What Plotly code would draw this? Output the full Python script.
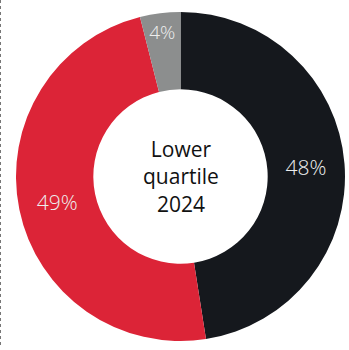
import plotly.graph_objects as go

labels = ["Group A", "Group B", "Group C"]
values = [48, 49, 4]
colors = ["#15181d", "#dc2437", "#8c8e8e"]
center_text = "Lower<br>quartile<br>2024"

fig = go.Figure(go.Pie(
    labels=labels,
    values=values,
    hole=0.53,
    sort=False,
    direction="clockwise",
    rotation=0,
    marker=dict(colors=colors, line=dict(width=0)),
    texttemplate="%{value}%",
    textposition="inside",
    insidetextorientation="horizontal",
    textfont=dict(family="Open Sans", size=21, color="#eeeeee", weight=300),
    hoverinfo="label+value",
    showlegend=False,
))

fig.add_annotation(
    text=center_text, x=0.5, y=0.5, xref="paper", yref="paper",
    showarrow=False, font=dict(family="Open Sans", size=21, color="#111111"),
    align="center",
)

fig.add_shape(
    type="line", xref="paper", yref="paper",
    x0=-15.5/329, x1=-15.5/329, y0=1 + 12/329, y1=-7/329,
    line=dict(color="#777777", width=1, dash="dot"),
)

fig.update_layout(
    width=349, height=350,
    margin=dict(l=16, r=4, t=12, b=9),
    paper_bgcolor="white", plot_bgcolor="white",
)

fig.write_html("out.html", config={"displayModeBar": False},
               post_script="document.body.style.margin='0';")
